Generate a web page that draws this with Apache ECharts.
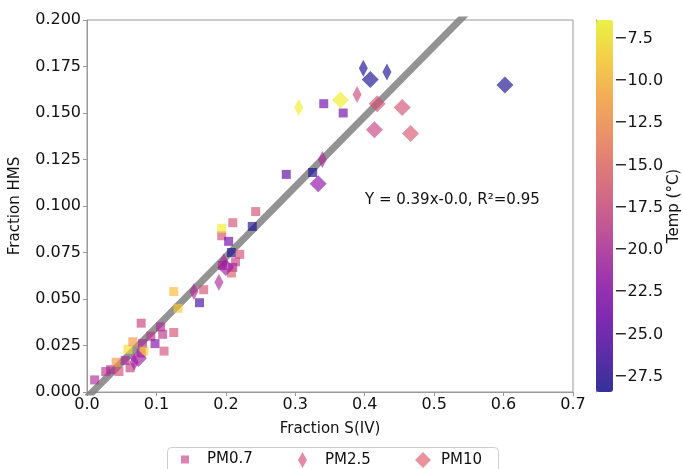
<!DOCTYPE html>
<html>
<head>
<meta charset="utf-8">
<script src="https://cdn.jsdelivr.net/npm/echarts@6/dist/echarts.min.js"></script>
<style>
  html, body { margin: 0; padding: 0; background: #fff; }
  #chart { width: 683px; height: 469px; }
</style>
</head>
<body>
<div id="chart"></div>
<script>
// [x = Fraction S(IV), y = Fraction HMS, temp in C]
const pm07 = [
    [0.011, 0.0065, -20], [0.027, 0.011, -19], [0.034, 0.012, -20], [0.042, 0.016, -12],
    [0.046, 0.011, -17], [0.062, 0.013, -18], [0.059, 0.023, -8], [0.066, 0.027, -12],
    [0.078, 0.037, -18], [0.080, 0.026, -20], [0.078, 0.021, -20], [0.082, 0.022, -9],
    [0.092, 0.030, -19], [0.098, 0.026, -23], [0.106, 0.035, -20], [0.109, 0.031, -19],
    [0.111, 0.022, -17], [0.125, 0.032, -17], [0.131, 0.045, -9], [0.125, 0.054, -10],
    [0.162, 0.048, -26], [0.168, 0.055, -17], [0.195, 0.068, -20], [0.194, 0.084, -17],
    [0.194, 0.088, -7], [0.204, 0.081, -24], [0.210, 0.091, -17], [0.243, 0.097, -17],
    [0.238, 0.089, -28], [0.208, 0.075, -28], [0.220, 0.074, -17], [0.214, 0.070, -18],
    [0.210, 0.067, -20], [0.208, 0.064, -16], [0.341, 0.155, -24], [0.369, 0.150, -24],
    [0.287, 0.117, -25], [0.325, 0.118, -28], [0.055, 0.017, -20]
];
const pm25 = [
    [0.305, 0.153, -7], [0.398, 0.174, -28], [0.432, 0.172, -28], [0.389, 0.160, -17.5],
    [0.339, 0.125, -20], [0.190, 0.059, -20], [0.154, 0.054, -20], [0.197, 0.070, -20],
    [0.068, 0.016, -21]
];
const pm10 = [
    [0.365, 0.157, -7], [0.408, 0.168, -28], [0.418, 0.155, -17], [0.454, 0.153, -17],
    [0.414, 0.141, -18], [0.466, 0.139, -16.5], [0.602, 0.165, -28], [0.333, 0.112, -22],
    [0.074, 0.018, -21], [0.200, 0.067, -21]
];
const seriesNames = ['PM0.7', 'PM2.5', 'PM10'];

// fitted line
const fitSlope = 0.378;
const fitIntercept = -0.003;
const fitX = [0, 0.6];

const tempMin = -28.4;
const tempMax = -6.4;
const tempTicks = [-27.5, -25, -22.5, -20, -17.5, -15, -12.5, -10, -7.5];

// plasma, alpha 0.8
const plasma = [
    'rgba(13,8,135,0.8)', 'rgba(65,4,157,0.8)', 'rgba(106,0,168,0.8)', 'rgba(143,13,164,0.8)',
    'rgba(177,42,144,0.8)', 'rgba(204,71,120,0.8)', 'rgba(225,100,98,0.8)', 'rgba(242,132,75,0.8)',
    'rgba(252,166,54,0.8)', 'rgba(252,206,37,0.8)', 'rgba(240,249,33,0.8)'
];

document.addEventListener('DOMContentLoaded', () => {
    const chart = echarts.init(document.getElementById('chart'));
    const font = 'DejaVu Sans';
    const txt = '#111';
    const axisGray = '#999';
    const minus = v => (v < 0 ? '\u2212' : '') + Math.abs(v).toFixed(1);

    const legendCommon = {
        top: 452,
        padding: 0,
        selectedMode: false,
        textStyle: { fontFamily: font, fontSize: 15, color: txt }
    };

    const option = {
        animation: false,
        grid: [
            { left: 86, top: 20, width: 487, height: 372, show: true, borderColor: axisGray, borderWidth: 1 },
            { left: 596, top: 20, width: 17, height: 372 }
        ],
        xAxis: [
            {
                type: 'value', gridIndex: 0, min: 0, max: 0.7, interval: 0.1,
                name: 'Fraction S(IV)', nameLocation: 'middle', nameGap: 30,
                nameTextStyle: { fontFamily: font, fontSize: 15, color: txt },
                axisLine: { show: true, lineStyle: { color: axisGray } },
                axisTick: { show: true, length: 4, lineStyle: { color: axisGray } },
                axisLabel: { fontFamily: font, fontSize: 16, color: txt, margin: 5, formatter: v => v.toFixed(1) },
                splitLine: { show: false }
            },
            { type: 'value', gridIndex: 1, min: 0, max: 1, show: false }
        ],
        yAxis: [
            {
                type: 'value', gridIndex: 0, min: 0, max: 0.2, interval: 0.025,
                name: 'Fraction HMS', nameLocation: 'middle', nameGap: 64,
                nameTextStyle: { fontFamily: font, fontSize: 15, color: txt },
                axisLine: { show: true, lineStyle: { color: axisGray } },
                axisTick: { show: true, length: 4, lineStyle: { color: axisGray } },
                axisLabel: { fontFamily: font, fontSize: 16, color: txt, margin: 6, formatter: v => v.toFixed(3) },
                splitLine: { show: false }
            },
            {
                type: 'value', gridIndex: 1, position: 'right', min: tempMin, max: tempMax,
                name: 'Temp (\u00b0C)', nameLocation: 'middle', nameGap: 48, nameRotate: 90,
                nameTextStyle: { fontFamily: font, fontSize: 15, color: txt },
                axisLine: { show: true, lineStyle: { color: axisGray } },
                axisTick: { show: true, length: 4, lineStyle: { color: axisGray }, customValues: tempTicks },
                axisLabel: { fontFamily: font, fontSize: 16, color: txt, margin: 6, customValues: tempTicks, formatter: minus },
                splitLine: { show: false }
            }
        ],
        visualMap: {
            type: 'continuous',
            min: tempMin, max: tempMax,
            dimension: 2,
            seriesIndex: [1, 2, 3],
            inRange: { color: plasma },
            calculable: false,
            hoverLink: false,
            left: 596, top: 20,
            itemWidth: 17, itemHeight: 372,
            padding: 0,
            borderColor: axisGray, borderWidth: 0
        },
        legend: [
            Object.assign({}, legendCommon, {
                left: 181, data: [{ name: seriesNames[0], itemStyle: { color: 'rgba(204,71,140,0.85)' } }],
                icon: 'rect', itemWidth: 8, itemHeight: 8,
                textStyle: Object.assign({}, legendCommon.textStyle, { padding: [0, 0, 0, 13] })
            }),
            Object.assign({}, legendCommon, {
                left: 298, data: [{ name: seriesNames[1], itemStyle: { color: 'rgba(214,85,120,0.85)' } }],
                icon: 'diamond', itemWidth: 9, itemHeight: 16,
                textStyle: Object.assign({}, legendCommon.textStyle, { padding: [0, 0, 0, 13] })
            }),
            Object.assign({}, legendCommon, {
                left: 415, data: [{ name: seriesNames[2], itemStyle: { color: 'rgba(222,96,112,0.85)' } }],
                icon: 'diamond', itemWidth: 16, itemHeight: 16,
                textStyle: Object.assign({}, legendCommon.textStyle, { padding: [0, 0, 0, 5] })
            })
        ],
        graphic: [
            {
                type: 'rect', left: 165, top: 445,
                shape: { width: 331, height: 40, r: 4 },
                style: { fill: 'none', stroke: '#ccc', lineWidth: 1 }
            },
            {
                type: 'text', left: 365, top: 193,
                style: {
                    text: 'Y = 0.39x-0.0, R\u00b2=0.95',
                    fontFamily: font, fontSize: 15, fill: txt
                }
            }
        ],
        series: [
            {
                name: 'fit', type: 'line', xAxisIndex: 0, yAxisIndex: 0,
                data: fitX.map(x => [x, fitSlope * x + fitIntercept]),
                symbol: 'none', clip: true, z: 1,
                lineStyle: { color: 'rgba(128,128,128,0.85)', width: 7 }
            },
            {
                name: seriesNames[0], type: 'scatter', data: pm07, z: 2,
                symbol: 'rect', symbolSize: 9
            },
            {
                name: seriesNames[1], type: 'scatter', data: pm25, z: 3,
                symbol: 'diamond', symbolSize: [9, 17]
            },
            {
                name: seriesNames[2], type: 'scatter', data: pm10, z: 4,
                symbol: 'diamond', symbolSize: [17, 17]
            }
        ]
    };
    chart.setOption(option);
});
</script>
</body>
</html>
